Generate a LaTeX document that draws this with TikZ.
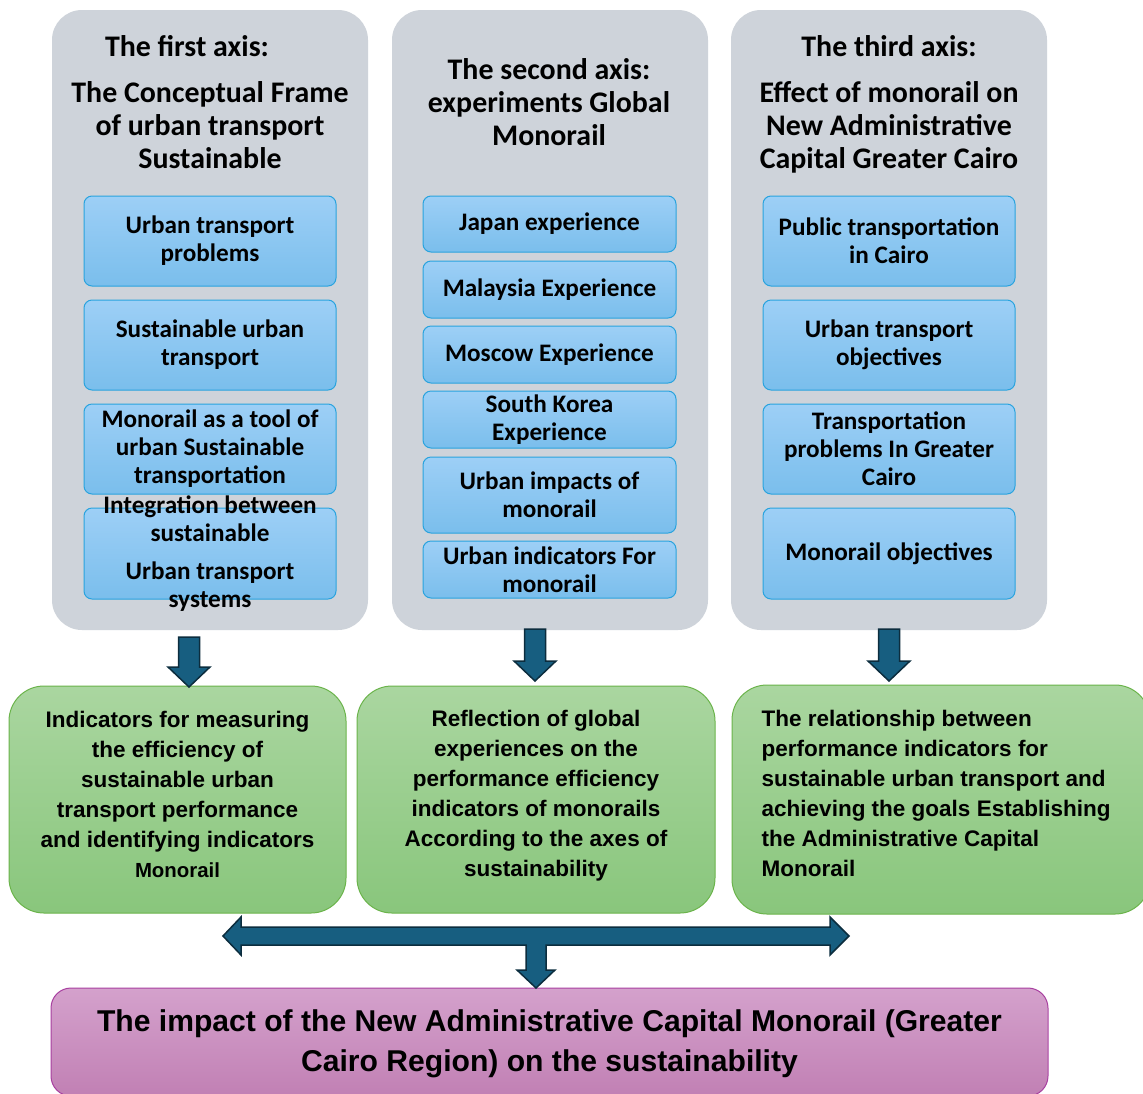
\documentclass[tikz,border=0pt]{standalone}
\usepackage{fontspec}
\usetikzlibrary{calc}
\newfontfamily\calfont{Carlito}
\newfontfamily\arialfont{Liberation Sans}
\definecolor{panelgray}{RGB}{206,211,218}
\definecolor{blueTop}{RGB}{157,207,246}
\definecolor{blueBot}{RGB}{122,190,236}
\definecolor{blueLine}{RGB}{41,163,222}
\definecolor{greenTop}{RGB}{170,214,160}
\definecolor{greenBot}{RGB}{137,198,124}
\definecolor{greenLine}{RGB}{107,180,75}
\definecolor{pinkTop}{RGB}{212,161,204}
\definecolor{pinkBot}{RGB}{193,128,180}
\definecolor{pinkLine}{RGB}{168,64,160}
\definecolor{arrowFill}{RGB}{23,94,128}
\definecolor{arrowLine}{RGB}{12,45,62}
\newcommand\blockdown[2]{%
  \draw[blockarrow] ($(#1)+(-10.5,0)$) -- ($(#1)+(10.5,0)$) -- ($(#2)+(10.5,-20)$)
    -- ($(#2)+(21,-20)$) -- (#2) -- ($(#2)+(-21,-20)$) -- ($(#2)+(-10.5,-20)$) -- cycle;}
\begin{document}
\begin{tikzpicture}[x=1pt,y=-1pt,
  panel/.style={fill=panelgray, draw=none, rounded corners=30, inner sep=0},
  title/.style={font=\calfont\bfseries\fontsize{29.9}{33}\selectfont, align=center, inner sep=0},
  bluebox/.style={draw=blueLine, line width=1, rounded corners=8, top color=blueTop, bottom color=blueBot,
    font=\calfont\bfseries\fontsize{25.2}{28}\selectfont, align=center, inner sep=0},
  btext/.style={font=\calfont\bfseries\fontsize{25.2}{28}\selectfont, align=center, inner sep=0},
  greenbox/.style={draw=greenLine, line width=1, rounded corners=35, top color=greenTop, bottom color=greenBot, inner sep=0},
  gtext/.style={font=\arialfont\bfseries\fontsize{22.5}{30}\selectfont, inner sep=0},
  pinkbox/.style={draw=pinkLine, line width=1, rounded corners=20, top color=pinkTop, bottom color=pinkBot, inner sep=0},
  ptext/.style={font=\arialfont\bfseries\fontsize{30.1}{40}\selectfont, align=center, inner sep=0},
  blockarrow/.style={fill=arrowFill, draw=arrowLine, line width=1.5, line join=miter}
]
\useasboundingbox (0,0) rectangle (1143,1093);
\fill[white] (0,0) rectangle (1143,1093);

% panels
\node[panel, minimum width=316, minimum height=620] (p1) at (210,320) {};
\node[panel, minimum width=316, minimum height=620] (p2) at (550,320) {};
\node[panel, minimum width=316, minimum height=620] (p3) at (889,320) {};

% titles
\node[title] (h1a) at (187,46) {The first axis:};
\node[title] (h1b) at (210,125) {The Conceptual Frame\\of urban transport\\Sustainable};
\node[title] (h2) at (549,102) {The second axis:\\experiments Global\\Monorail};
\node[title] (h3a) at (889,46) {The third axis:};
\node[title] (h3b) at (889,127) {Effect of monorail on\\New Administrative\\Capital Greater Cairo};

% panel 1 boxes
\node[bluebox, minimum width=252, minimum height=90] (b11) at (210,241) {Urban transport\\problems};
\node[bluebox, minimum width=252, minimum height=90] (b12) at (210,345) {Sustainable urban\\transport};
\node[bluebox, minimum width=252, minimum height=90] (b13) at (210,449) {Monorail as a tool of\\urban Sustainable\\transportation};
\node[bluebox, minimum width=252, minimum height=91] (b14) at (210,553.5) {};
\node[btext] (t14) at (b14.center) {Integration between\\sustainable\\[10pt]Urban transport\\systems};

% panel 2 boxes
\node[bluebox, minimum width=253, minimum height=56] (b21) at (549.5,224) {Japan experience};
\node[bluebox, minimum width=253, minimum height=57] (b22) at (549.5,289.5) {Malaysia Experience};
\node[bluebox, minimum width=253, minimum height=57] (b23) at (549.5,354.5) {Moscow Experience};
\node[bluebox, minimum width=253, minimum height=57] (b24) at (549.5,419.5) {South Korea\\Experience};
\node[bluebox, minimum width=253, minimum height=76] (b25) at (549.5,495) {Urban impacts of\\monorail};
\node[bluebox, minimum width=253, minimum height=57] (b26) at (549.5,569.5) {Urban indicators For\\monorail};

% panel 3 boxes
\node[bluebox, minimum width=252, minimum height=90] (b31) at (889,241) {Public transportation\\in Cairo};
\node[bluebox, minimum width=252, minimum height=90] (b32) at (889,345) {Urban transport\\objectives};
\node[bluebox, minimum width=252, minimum height=90] (b33) at (889,449) {Transportation\\problems In Greater\\Cairo};
\node[bluebox, minimum width=252, minimum height=91] (b34) at (889,553.5) {Monorail objectives};

% green boxes
\node[greenbox, minimum width=337, minimum height=227] (g1) at (177.5,799.5) {};
\node[greenbox, minimum width=358, minimum height=227] (g2) at (536,799.5) {};
\node[greenbox, minimum width=418, minimum height=229] (g3) at (941,799.5) {};
\node[gtext, align=center] (tg1) at ($(g1.center)+(0,-5)$)
  {Indicators for measuring\\the efficiency of\\sustainable urban\\transport performance\\and identifying indicators\\{\fontsize{20.4}{31}\selectfont Monorail}};
\node[gtext, align=center] (tg2) at ($(g2.center)+(0,-4)$)
  {Reflection of global\\experiences on the\\performance efficiency\\indicators of monorails\\According to the axes of\\sustainability};
\node[gtext, align=left, anchor=west] (tg3) at ($(g3.west)+(30,-6)$)
  {The relationship between\\performance indicators for\\sustainable urban transport and\\achieving the goals Establishing\\the Administrative Capital\\Monorail};

% pink box
\node[pinkbox, minimum width=997, minimum height=108] (pk) at (549.5,1042) {};
\node[ptext] (pkt) at ($(pk.center)+(0,2)$) {The impact of the New Administrative Capital Monorail (Greater\\Cairo Region) on the sustainability};

% down arrows
\coordinate (a1s) at (189,637); \coordinate (a1e) at (189,687);
\coordinate (a2s) at (535,629); \coordinate (a2e) at (535,681);
\coordinate (a3s) at (889,629); \coordinate (a3e) at (889,681);
\blockdown{a1s}{a1e}
\blockdown{a2s}{a2e}
\blockdown{a3s}{a3e}

% double arrow with down stem
\coordinate (dl) at (223,936);
\coordinate (dr) at (849,936);
\coordinate (dd) at (536,988);
\draw[blockarrow] (dl) -- ($(dl)+(18,-19)$) -- ($(dl)+(18,-9)$) -- ($(dr)+(-19,-9)$) -- ($(dr)+(-19,-19)$)
  -- (dr) -- ($(dr)+(-19,19)$) -- ($(dr)+(-19,9)$) -- ($(dd)+(10,-43)$) -- ($(dd)+(10,-18)$)
  -- ($(dd)+(19,-18)$) -- (dd) -- ($(dd)+(-19,-18)$) -- ($(dd)+(-10,-18)$) -- ($(dd)+(-10,-43)$)
  -- ($(dl)+(18,9)$) -- ($(dl)+(18,19)$) -- cycle;
\end{tikzpicture}
\end{document}
